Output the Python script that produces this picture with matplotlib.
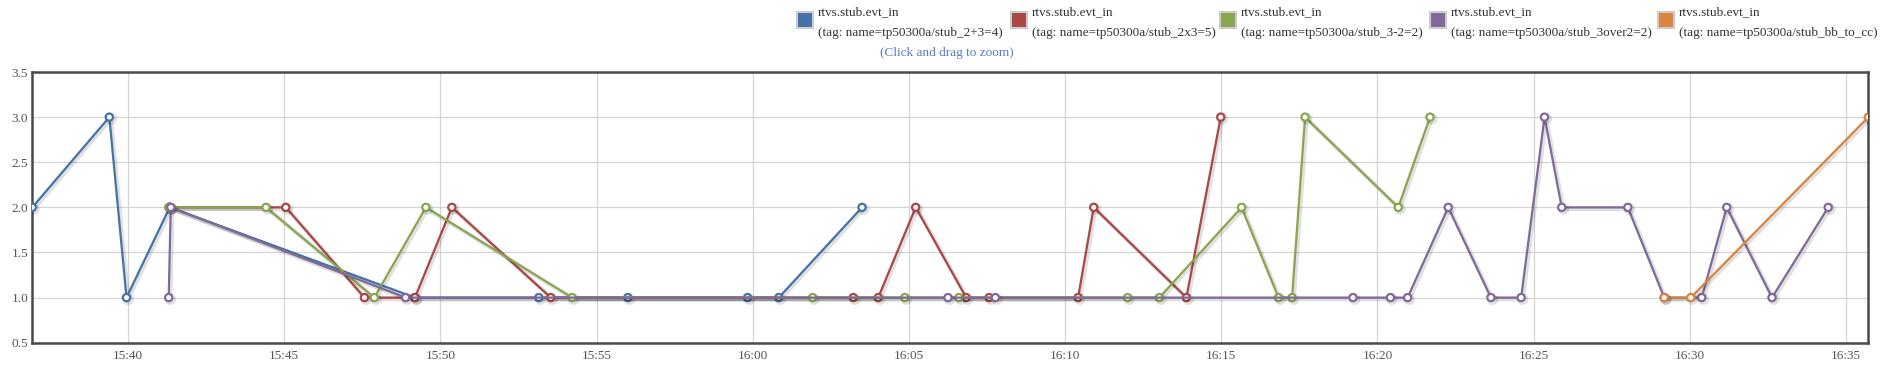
import numpy as np
import pandas as pd
import matplotlib
matplotlib.use("Agg")
import matplotlib.pyplot as plt
import matplotlib.dates as mdates
import matplotlib.patheffects as pe
from matplotlib.patches import Rectangle
from matplotlib.ticker import MultipleLocator, FormatStrFormatter

# series data (time of day, value)
blue_t = ["15:36:56", "15:39:24", "15:39:57", "15:41:20", "15:49:11", "15:53:09",
          "15:56:00", "15:59:50", "16:00:50", "16:03:30"]
blue_v = [2, 3, 1, 2, 1, 1, 1, 1, 1, 2]

red_t = ["15:41:20", "15:45:03", "15:47:34", "15:49:11", "15:50:22", "15:53:32",
         "16:03:13", "16:04:01", "16:05:13", "16:06:50", "16:07:34", "16:10:25",
         "16:10:55", "16:13:53", "16:14:59"]
red_v = [2, 2, 1, 1, 2, 1, 1, 1, 2, 1, 1, 1, 2, 1, 3]

green_t = ["15:41:18", "15:44:25", "15:47:53", "15:49:32", "15:54:13", "16:01:55",
           "16:04:52", "16:06:36", "16:12:00", "16:13:01", "16:15:39", "16:16:50",
           "16:17:16", "16:17:41", "16:20:40", "16:21:41"]
green_v = [2, 2, 1, 2, 1, 1, 1, 1, 1, 1, 2, 1, 1, 3, 2, 3]

purple_t = ["15:41:18", "15:41:22", "15:48:53", "16:06:15", "16:07:46", "16:19:13",
            "16:20:25", "16:20:58", "16:22:16", "16:23:38", "16:24:36", "16:25:21",
            "16:25:54", "16:28:01", "16:29:11", "16:30:23", "16:31:11", "16:32:38",
            "16:34:26"]
purple_v = [1, 2, 1, 1, 1, 1, 1, 1, 2, 1, 1, 3, 2, 2, 1, 1, 2, 1, 2]

orange_t = ["16:29:11", "16:30:02", "16:35:43"]
orange_v = [1, 1, 3]

names = ["stub_2+3=4", "stub_2x3=5", "stub_3-2=2", "stub_3over2=2", "stub_bb_to_cc"]
colors = ["#4572A7", "#AA4643", "#89A54E", "#80699B", "#DB843D"]
series = [(blue_t, blue_v), (red_t, red_v), (green_t, green_v),
          (purple_t, purple_v), (orange_t, orange_v)]


def to_dt(ts):
    return pd.to_datetime(["2015-06-01 " + t for t in ts])


plt.rcParams['font.family'] = ['Liberation Serif', 'DejaVu Serif']

fig = plt.figure(figsize=(18.93, 3.70), dpi=100)
ax = fig.add_axes([0.01706, 0.0738, 0.9699, 0.7316])

shadow = [pe.SimpleLineShadow(offset=(1.2, -1.2), shadow_color='k', alpha=0.12, linewidth=3),
          pe.Normal()]

all_t = []
for (t, v), c in zip(series, colors):
    x = to_dt(t)
    all_t.extend(x)
    ax.plot(x, v, color=c, lw=1.6, marker='o', ms=5.2, mfc='white', mec=c,
            mew=1.6, path_effects=shadow, zorder=3)

ax.set_xlim(min(all_t), max(all_t))
ax.set_ylim(0.5, 3.5)
ax.yaxis.set_major_locator(MultipleLocator(0.5))
ax.yaxis.set_major_formatter(FormatStrFormatter('%.1f'))
ax.xaxis.set_major_locator(mdates.MinuteLocator(byminute=range(0, 60, 5)))
ax.xaxis.set_major_formatter(mdates.DateFormatter('%H:%M'))
ax.grid(True, color='#d4d4d4', lw=0.9)
ax.set_axisbelow(True)
for s in ax.spines.values():
    s.set_color('#4a4a4a')
    s.set_linewidth(1.8)
ax.tick_params(length=0, labelsize=9.5, labelcolor='#555555')
ax.tick_params(axis='x', pad=5)
ax.tick_params(axis='y', pad=3)

# legend across the top
W, H = 1893.0, 370.0
swatch_x = [805, 1019, 1228, 1438, 1666]
for sx, c, n in zip(swatch_x, colors, names):
    fig.patches.append(Rectangle(((sx - 8) / W, 1 - 28 / H), 16 / W, 16 / H,
                                 transform=fig.transFigure, facecolor=c,
                                 edgecolor='#cccccc', lw=1.5))
    fig.text((sx + 13) / W, 1 - 12 / H, "rtvs.stub.evt_in", fontsize=9.5,
             color='#333333', va='center', ha='left')
    fig.text((sx + 13) / W, 1 - 33 / H, "(tag: name=tp50300a/" + n + ")",
             fontsize=9.5, color='#333333', va='center', ha='left')

fig.text(947 / W, 1 - 53 / H, "(Click and drag to zoom)", fontsize=9.5,
         color='#5a78c8', va='center', ha='center')

fig.savefig("out.png", dpi=100)
